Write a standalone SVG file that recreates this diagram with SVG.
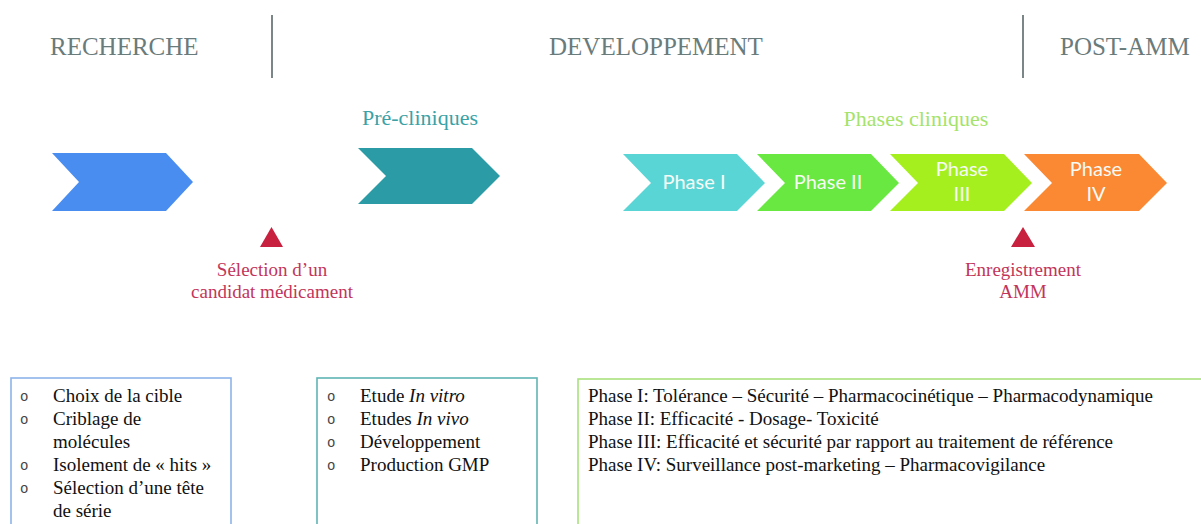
<svg xmlns="http://www.w3.org/2000/svg" width="1201" height="524" viewBox="0 0 1201 524">
<style>
.hdr{font-family:"Liberation Serif",serif;font-size:25px;fill:#6a7b7b}
.div{stroke:#7b8686;stroke-width:2}
.ph{font-family:Lato,"Open Sans",sans-serif;font-size:20px;fill:#f6fbf6;text-anchor:middle}
.red{font-family:"Liberation Serif",serif;font-size:19px;fill:#c2355a;text-anchor:middle}
.tri{fill:#c8203f}
.sec{font-family:"Liberation Serif",serif;font-size:22px;text-anchor:middle}
.txt{font-family:"Liberation Serif",serif;font-size:19px;fill:#111}
.bul{font-family:"Liberation Mono",monospace;font-size:14px;fill:#444}
.box{fill:#fff;stroke-width:1.6}
</style>
<rect width="1201" height="524" fill="#fff"/>
<g id="headers">
<text class="hdr" x="50" y="55">RECHERCHE</text>
<text class="hdr" x="549" y="55">DEVELOPPEMENT</text>
<text class="hdr" x="1060" y="55">POST-AMM</text>
<line class="div" x1="272" y1="15" x2="272" y2="78"/>
<line class="div" x1="1023" y1="15" x2="1023" y2="78"/>
</g>
<g id="recherche-chevron">
<polygon points="52,153 166,153 193,182 166,211 52,211 79,182" fill="#4a8df1"/>
</g>
<g id="precliniques">
<text class="sec" x="420" y="125" fill="#3aa2a6">Pré-cliniques</text>
<polygon points="358,148 472,148 500,176 472,204 358,204 386,176" fill="#2b9ba5"/>
</g>
<g id="phases-title">
<text class="sec" x="916" y="126" fill="#a5e36b">Phases cliniques</text>
</g>
<g id="phase1">
<polygon points="623,154 737,154 765,183 737,211 623,211 651,183" fill="#5ad5d5"/>
<text class="ph" x="694" y="189">Phase I</text>
</g>
<g id="phase2">
<polygon points="757,154 871,154 899,183 871,211 757,211 785,183" fill="#68e840"/>
<text class="ph" x="828" y="189">Phase II</text>
</g>
<g id="phase3">
<polygon points="890,154 1004,154 1032,183 1004,211 890,211 918,183" fill="#a6ef1f"/>
<text class="ph" x="962" y="176">Phase</text>
<text class="ph" x="962" y="201">III</text>
</g>
<g id="phase4">
<polygon points="1024,154 1139,154 1167,183 1139,211 1024,211 1052,183" fill="#fb8933"/>
<text class="ph" x="1096" y="176">Phase</text>
<text class="ph" x="1096" y="201">IV</text>
</g>
<g id="milestone-candidat">
<polygon class="tri" points="260,247 283,247 271.5,227"/>
<text class="red" x="272" y="276">Sélection d’un</text>
<text class="red" x="272" y="298">candidat médicament</text>
</g>
<g id="milestone-amm">
<polygon class="tri" points="1011,247 1035,247 1023,227"/>
<text class="red" x="1023" y="276">Enregistrement</text>
<text class="red" x="1023" y="298">AMM</text>
</g>
<g id="box-recherche">
<rect class="box" x="11" y="378" width="220" height="160" stroke="#8db3ea"/>
<text class="bul" x="20" y="401">o</text>
<text class="bul" x="20" y="424">o</text>
<text class="bul" x="20" y="470">o</text>
<text class="bul" x="20" y="493">o</text>
<text class="txt" x="53" y="402">Choix de la cible</text>
<text class="txt" x="53" y="425">Criblage de</text>
<text class="txt" x="53" y="448">molécules</text>
<text class="txt" x="53" y="471">Isolement de « hits »</text>
<text class="txt" x="53" y="494">Sélection d’une tête</text>
<text class="txt" x="53" y="517">de série</text>
</g>
<g id="box-precliniques">
<rect class="box" x="317" y="378" width="220" height="160" stroke="#5fb5b5"/>
<text class="bul" x="327" y="401">o</text>
<text class="bul" x="327" y="424">o</text>
<text class="bul" x="327" y="447">o</text>
<text class="bul" x="327" y="470">o</text>
<text class="txt" x="360" y="402">Etude <tspan font-style="italic">In vitro</tspan></text>
<text class="txt" x="360" y="425">Etudes <tspan font-style="italic">In vivo</tspan></text>
<text class="txt" x="360" y="448">Développement</text>
<text class="txt" x="360" y="471">Production GMP</text>
</g>
<g id="box-cliniques">
<rect class="box" x="578" y="379" width="640" height="160" stroke="#a8e27c" stroke-width="2"/>
<text class="txt" x="588" y="402">Phase I: Tolérance – Sécurité – Pharmacocinétique – Pharmacodynamique</text>
<text class="txt" x="588" y="425">Phase II: Efficacité - Dosage- Toxicité</text>
<text class="txt" x="588" y="448">Phase III: Efficacité et sécurité par rapport au traitement de référence</text>
<text class="txt" x="588" y="471">Phase IV: Surveillance post-marketing – Pharmacovigilance</text>
</g>
<g id="connectors"></g>
</svg>
